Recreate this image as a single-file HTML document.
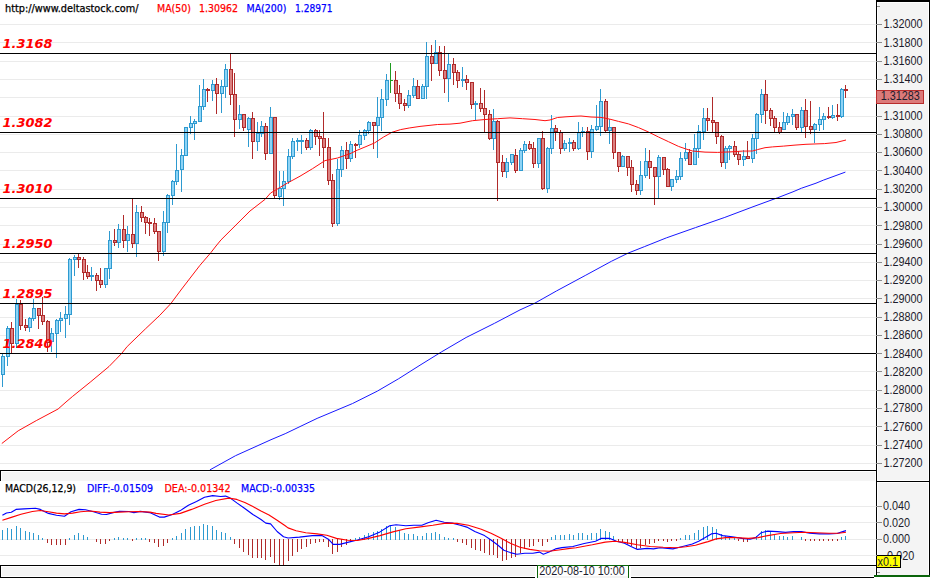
<!DOCTYPE html>
<html lang="en"><head><meta charset="utf-8"><title>Chart</title>
<style>html,body{margin:0;padding:0;background:#fff;overflow:hidden}svg{display:block}.t{font-family:"DejaVu Sans Condensed","DejaVu Sans","Liberation Sans",sans-serif;font-stretch:condensed;font-size:11px}.a{font-family:"Liberation Sans",Arial,sans-serif;font-size:12px;fill:#1c1c2c}.l{font-family:"DejaVu Sans","Liberation Sans",sans-serif;font-weight:bold;font-style:italic;font-size:12.7px;fill:#ff0000}</style></head><body>
<svg width="930" height="578" viewBox="0 0 930 578">
<rect width="930" height="578" fill="#fff"/>
<g shape-rendering="crispEdges">
<rect x="0" y="24" width="876" height="1" fill="#ebebeb"/>
<rect x="0" y="42" width="876" height="1" fill="#ebebeb"/>
<rect x="0" y="61" width="876" height="1" fill="#ebebeb"/>
<rect x="0" y="79" width="876" height="1" fill="#ebebeb"/>
<rect x="0" y="97" width="876" height="1" fill="#ebebeb"/>
<rect x="0" y="116" width="876" height="1" fill="#ebebeb"/>
<rect x="0" y="134" width="876" height="1" fill="#ebebeb"/>
<rect x="0" y="152" width="876" height="1" fill="#ebebeb"/>
<rect x="0" y="170" width="876" height="1" fill="#ebebeb"/>
<rect x="0" y="189" width="876" height="1" fill="#ebebeb"/>
<rect x="0" y="207" width="876" height="1" fill="#ebebeb"/>
<rect x="0" y="225" width="876" height="1" fill="#ebebeb"/>
<rect x="0" y="244" width="876" height="1" fill="#ebebeb"/>
<rect x="0" y="262" width="876" height="1" fill="#ebebeb"/>
<rect x="0" y="280" width="876" height="1" fill="#ebebeb"/>
<rect x="0" y="298" width="876" height="1" fill="#ebebeb"/>
<rect x="0" y="317" width="876" height="1" fill="#ebebeb"/>
<rect x="0" y="335" width="876" height="1" fill="#ebebeb"/>
<rect x="0" y="353" width="876" height="1" fill="#ebebeb"/>
<rect x="0" y="371" width="876" height="1" fill="#ebebeb"/>
<rect x="0" y="390" width="876" height="1" fill="#ebebeb"/>
<rect x="0" y="408" width="876" height="1" fill="#ebebeb"/>
<rect x="0" y="426" width="876" height="1" fill="#ebebeb"/>
<rect x="0" y="445" width="876" height="1" fill="#ebebeb"/>
<rect x="0" y="463" width="876" height="1" fill="#ebebeb"/>
<rect x="0" y="506" width="876" height="1" fill="#ebebeb"/>
<rect x="0" y="522" width="876" height="1" fill="#ebebeb"/>
<rect x="0" y="539" width="876" height="1" fill="#ebebeb"/>
<rect x="0" y="555" width="876" height="1" fill="#ebebeb"/>
</g>
<g shape-rendering="crispEdges">
<rect x="2" y="354" width="1" height="33" fill="#2e9ad0"/>
<rect x="1" y="356" width="4" height="19" fill="#2e9ad0"/>
<rect x="2" y="357" width="2" height="17" fill="#8dd3f5"/>
<rect x="7" y="326" width="1" height="40" fill="#2e9ad0"/>
<rect x="6" y="328" width="4" height="29" fill="#2e9ad0"/>
<rect x="7" y="329" width="2" height="27" fill="#8dd3f5"/>
<rect x="11" y="322" width="1" height="32" fill="#b02a2a"/>
<rect x="10" y="328" width="4" height="16" fill="#b02a2a"/>
<rect x="11" y="329" width="2" height="14" fill="#dc8080"/>
<rect x="16" y="299" width="1" height="49" fill="#2e9ad0"/>
<rect x="15" y="304" width="4" height="40" fill="#2e9ad0"/>
<rect x="16" y="305" width="2" height="38" fill="#8dd3f5"/>
<rect x="20" y="300" width="1" height="30" fill="#b02a2a"/>
<rect x="19" y="304" width="4" height="22" fill="#b02a2a"/>
<rect x="20" y="305" width="2" height="20" fill="#dc8080"/>
<rect x="25" y="319" width="1" height="12" fill="#b02a2a"/>
<rect x="24" y="325" width="4" height="3" fill="#b02a2a"/>
<rect x="25" y="326" width="2" height="1" fill="#dc8080"/>
<rect x="29" y="317" width="1" height="15" fill="#2e9ad0"/>
<rect x="28" y="318" width="4" height="10" fill="#2e9ad0"/>
<rect x="29" y="319" width="2" height="8" fill="#8dd3f5"/>
<rect x="33" y="299" width="1" height="22" fill="#2e9ad0"/>
<rect x="32" y="308" width="4" height="11" fill="#2e9ad0"/>
<rect x="33" y="309" width="2" height="9" fill="#8dd3f5"/>
<rect x="38" y="308" width="1" height="21" fill="#b02a2a"/>
<rect x="37" y="308" width="4" height="8" fill="#b02a2a"/>
<rect x="38" y="309" width="2" height="6" fill="#dc8080"/>
<rect x="42" y="297" width="1" height="28" fill="#b02a2a"/>
<rect x="41" y="315" width="4" height="7" fill="#b02a2a"/>
<rect x="42" y="316" width="2" height="5" fill="#dc8080"/>
<rect x="47" y="320" width="1" height="32" fill="#b02a2a"/>
<rect x="46" y="321" width="4" height="22" fill="#b02a2a"/>
<rect x="47" y="322" width="2" height="20" fill="#dc8080"/>
<rect x="51" y="328" width="1" height="24" fill="#2e9ad0"/>
<rect x="50" y="333" width="4" height="9" fill="#2e9ad0"/>
<rect x="51" y="334" width="2" height="7" fill="#8dd3f5"/>
<rect x="56" y="319" width="1" height="39" fill="#2e9ad0"/>
<rect x="55" y="320" width="4" height="14" fill="#2e9ad0"/>
<rect x="56" y="321" width="2" height="12" fill="#8dd3f5"/>
<rect x="60" y="312" width="1" height="20" fill="#2e9ad0"/>
<rect x="59" y="318" width="4" height="3" fill="#2e9ad0"/>
<rect x="60" y="319" width="2" height="1" fill="#8dd3f5"/>
<rect x="65" y="306" width="1" height="32" fill="#2e9ad0"/>
<rect x="64" y="314" width="4" height="5" fill="#2e9ad0"/>
<rect x="65" y="315" width="2" height="3" fill="#8dd3f5"/>
<rect x="69" y="258" width="1" height="67" fill="#2e9ad0"/>
<rect x="68" y="259" width="4" height="56" fill="#2e9ad0"/>
<rect x="69" y="260" width="2" height="54" fill="#8dd3f5"/>
<rect x="74" y="255" width="1" height="21" fill="#2e9ad0"/>
<rect x="73" y="257" width="4" height="3" fill="#2e9ad0"/>
<rect x="74" y="258" width="2" height="1" fill="#8dd3f5"/>
<rect x="78" y="254" width="1" height="14" fill="#b02a2a"/>
<rect x="77" y="257" width="4" height="3" fill="#b02a2a"/>
<rect x="78" y="258" width="2" height="1" fill="#dc8080"/>
<rect x="83" y="257" width="1" height="23" fill="#b02a2a"/>
<rect x="82" y="259" width="4" height="14" fill="#b02a2a"/>
<rect x="83" y="260" width="2" height="12" fill="#dc8080"/>
<rect x="87" y="265" width="1" height="14" fill="#b02a2a"/>
<rect x="86" y="272" width="4" height="5" fill="#b02a2a"/>
<rect x="87" y="273" width="2" height="3" fill="#dc8080"/>
<rect x="91" y="267" width="1" height="14" fill="#2e9ad0"/>
<rect x="90" y="275" width="4" height="2" fill="#2e9ad0"/>
<rect x="96" y="273" width="1" height="18" fill="#b02a2a"/>
<rect x="95" y="275" width="4" height="6" fill="#b02a2a"/>
<rect x="96" y="276" width="2" height="4" fill="#dc8080"/>
<rect x="100" y="268" width="1" height="20" fill="#b02a2a"/>
<rect x="99" y="280" width="4" height="5" fill="#b02a2a"/>
<rect x="100" y="281" width="2" height="3" fill="#dc8080"/>
<rect x="105" y="268" width="1" height="20" fill="#2e9ad0"/>
<rect x="104" y="268" width="4" height="17" fill="#2e9ad0"/>
<rect x="105" y="269" width="2" height="15" fill="#8dd3f5"/>
<rect x="109" y="231" width="1" height="48" fill="#2e9ad0"/>
<rect x="108" y="240" width="4" height="29" fill="#2e9ad0"/>
<rect x="109" y="241" width="2" height="27" fill="#8dd3f5"/>
<rect x="114" y="229" width="1" height="17" fill="#b02a2a"/>
<rect x="113" y="240" width="4" height="3" fill="#b02a2a"/>
<rect x="114" y="241" width="2" height="1" fill="#dc8080"/>
<rect x="118" y="224" width="1" height="24" fill="#2e9ad0"/>
<rect x="117" y="229" width="4" height="14" fill="#2e9ad0"/>
<rect x="118" y="230" width="2" height="12" fill="#8dd3f5"/>
<rect x="123" y="215" width="1" height="33" fill="#b02a2a"/>
<rect x="122" y="229" width="4" height="12" fill="#b02a2a"/>
<rect x="123" y="230" width="2" height="10" fill="#dc8080"/>
<rect x="127" y="226" width="1" height="26" fill="#2e9ad0"/>
<rect x="126" y="234" width="4" height="7" fill="#2e9ad0"/>
<rect x="127" y="235" width="2" height="5" fill="#8dd3f5"/>
<rect x="132" y="199" width="1" height="49" fill="#b02a2a"/>
<rect x="131" y="234" width="4" height="10" fill="#b02a2a"/>
<rect x="132" y="235" width="2" height="8" fill="#dc8080"/>
<rect x="136" y="205" width="1" height="52" fill="#2e9ad0"/>
<rect x="135" y="212" width="4" height="32" fill="#2e9ad0"/>
<rect x="136" y="213" width="2" height="30" fill="#8dd3f5"/>
<rect x="141" y="206" width="1" height="16" fill="#b02a2a"/>
<rect x="140" y="212" width="4" height="6" fill="#b02a2a"/>
<rect x="141" y="213" width="2" height="4" fill="#dc8080"/>
<rect x="145" y="216" width="1" height="18" fill="#b02a2a"/>
<rect x="144" y="217" width="4" height="6" fill="#b02a2a"/>
<rect x="145" y="218" width="2" height="4" fill="#dc8080"/>
<rect x="149" y="218" width="1" height="18" fill="#b02a2a"/>
<rect x="148" y="222" width="4" height="2" fill="#b02a2a"/>
<rect x="154" y="218" width="1" height="16" fill="#b02a2a"/>
<rect x="153" y="223" width="4" height="9" fill="#b02a2a"/>
<rect x="154" y="224" width="2" height="7" fill="#dc8080"/>
<rect x="158" y="231" width="1" height="30" fill="#b02a2a"/>
<rect x="157" y="231" width="4" height="21" fill="#b02a2a"/>
<rect x="158" y="232" width="2" height="19" fill="#dc8080"/>
<rect x="163" y="211" width="1" height="45" fill="#2e9ad0"/>
<rect x="162" y="222" width="4" height="30" fill="#2e9ad0"/>
<rect x="163" y="223" width="2" height="28" fill="#8dd3f5"/>
<rect x="167" y="194" width="1" height="39" fill="#2e9ad0"/>
<rect x="166" y="195" width="4" height="28" fill="#2e9ad0"/>
<rect x="167" y="196" width="2" height="26" fill="#8dd3f5"/>
<rect x="172" y="180" width="1" height="25" fill="#2e9ad0"/>
<rect x="171" y="181" width="4" height="15" fill="#2e9ad0"/>
<rect x="172" y="182" width="2" height="13" fill="#8dd3f5"/>
<rect x="176" y="144" width="1" height="41" fill="#2e9ad0"/>
<rect x="175" y="170" width="4" height="12" fill="#2e9ad0"/>
<rect x="176" y="171" width="2" height="10" fill="#8dd3f5"/>
<rect x="181" y="149" width="1" height="43" fill="#2e9ad0"/>
<rect x="180" y="155" width="4" height="15" fill="#2e9ad0"/>
<rect x="181" y="156" width="2" height="13" fill="#8dd3f5"/>
<rect x="185" y="127" width="1" height="29" fill="#2e9ad0"/>
<rect x="184" y="127" width="4" height="29" fill="#2e9ad0"/>
<rect x="185" y="128" width="2" height="27" fill="#8dd3f5"/>
<rect x="190" y="116" width="1" height="18" fill="#2e9ad0"/>
<rect x="189" y="123" width="4" height="5" fill="#2e9ad0"/>
<rect x="190" y="124" width="2" height="3" fill="#8dd3f5"/>
<rect x="194" y="119" width="1" height="21" fill="#2e9ad0"/>
<rect x="193" y="121" width="4" height="3" fill="#2e9ad0"/>
<rect x="194" y="122" width="2" height="1" fill="#8dd3f5"/>
<rect x="199" y="85" width="1" height="37" fill="#2e9ad0"/>
<rect x="198" y="106" width="4" height="16" fill="#2e9ad0"/>
<rect x="199" y="107" width="2" height="14" fill="#8dd3f5"/>
<rect x="203" y="79" width="1" height="31" fill="#2e9ad0"/>
<rect x="202" y="89" width="4" height="18" fill="#2e9ad0"/>
<rect x="203" y="90" width="2" height="16" fill="#8dd3f5"/>
<rect x="207" y="88" width="1" height="14" fill="#b02a2a"/>
<rect x="206" y="89" width="4" height="2" fill="#b02a2a"/>
<rect x="212" y="80" width="1" height="21" fill="#2e9ad0"/>
<rect x="211" y="84" width="4" height="7" fill="#2e9ad0"/>
<rect x="212" y="85" width="2" height="5" fill="#8dd3f5"/>
<rect x="216" y="78" width="1" height="36" fill="#b02a2a"/>
<rect x="215" y="84" width="4" height="10" fill="#b02a2a"/>
<rect x="216" y="85" width="2" height="8" fill="#dc8080"/>
<rect x="221" y="80" width="1" height="33" fill="#2e9ad0"/>
<rect x="220" y="86" width="4" height="8" fill="#2e9ad0"/>
<rect x="221" y="87" width="2" height="6" fill="#8dd3f5"/>
<rect x="225" y="64" width="1" height="34" fill="#2e9ad0"/>
<rect x="224" y="69" width="4" height="18" fill="#2e9ad0"/>
<rect x="225" y="70" width="2" height="16" fill="#8dd3f5"/>
<rect x="230" y="54" width="1" height="51" fill="#b02a2a"/>
<rect x="229" y="69" width="4" height="26" fill="#b02a2a"/>
<rect x="230" y="70" width="2" height="24" fill="#dc8080"/>
<rect x="234" y="73" width="1" height="64" fill="#b02a2a"/>
<rect x="233" y="94" width="4" height="26" fill="#b02a2a"/>
<rect x="234" y="95" width="2" height="24" fill="#dc8080"/>
<rect x="239" y="105" width="1" height="24" fill="#2e9ad0"/>
<rect x="238" y="114" width="4" height="6" fill="#2e9ad0"/>
<rect x="239" y="115" width="2" height="4" fill="#8dd3f5"/>
<rect x="243" y="114" width="1" height="17" fill="#b02a2a"/>
<rect x="242" y="114" width="4" height="14" fill="#b02a2a"/>
<rect x="243" y="115" width="2" height="12" fill="#dc8080"/>
<rect x="248" y="117" width="1" height="30" fill="#2e9ad0"/>
<rect x="247" y="118" width="4" height="12" fill="#2e9ad0"/>
<rect x="248" y="119" width="2" height="10" fill="#8dd3f5"/>
<rect x="252" y="112" width="1" height="47" fill="#b02a2a"/>
<rect x="251" y="118" width="4" height="24" fill="#b02a2a"/>
<rect x="252" y="119" width="2" height="22" fill="#dc8080"/>
<rect x="257" y="122" width="1" height="29" fill="#2e9ad0"/>
<rect x="256" y="133" width="4" height="9" fill="#2e9ad0"/>
<rect x="257" y="134" width="2" height="7" fill="#8dd3f5"/>
<rect x="261" y="121" width="1" height="16" fill="#2e9ad0"/>
<rect x="260" y="126" width="4" height="8" fill="#2e9ad0"/>
<rect x="261" y="127" width="2" height="6" fill="#8dd3f5"/>
<rect x="265" y="123" width="1" height="37" fill="#b02a2a"/>
<rect x="264" y="126" width="4" height="28" fill="#b02a2a"/>
<rect x="265" y="127" width="2" height="26" fill="#dc8080"/>
<rect x="270" y="107" width="1" height="47" fill="#2e9ad0"/>
<rect x="269" y="117" width="4" height="37" fill="#2e9ad0"/>
<rect x="270" y="118" width="2" height="35" fill="#8dd3f5"/>
<rect x="274" y="117" width="1" height="81" fill="#b02a2a"/>
<rect x="273" y="117" width="4" height="79" fill="#b02a2a"/>
<rect x="274" y="118" width="2" height="77" fill="#dc8080"/>
<rect x="279" y="171" width="1" height="29" fill="#2e9ad0"/>
<rect x="278" y="188" width="4" height="9" fill="#2e9ad0"/>
<rect x="279" y="189" width="2" height="7" fill="#8dd3f5"/>
<rect x="283" y="171" width="1" height="35" fill="#2e9ad0"/>
<rect x="282" y="181" width="4" height="8" fill="#2e9ad0"/>
<rect x="283" y="182" width="2" height="6" fill="#8dd3f5"/>
<rect x="288" y="149" width="1" height="35" fill="#2e9ad0"/>
<rect x="287" y="156" width="4" height="26" fill="#2e9ad0"/>
<rect x="288" y="157" width="2" height="24" fill="#8dd3f5"/>
<rect x="292" y="138" width="1" height="21" fill="#2e9ad0"/>
<rect x="291" y="141" width="4" height="16" fill="#2e9ad0"/>
<rect x="292" y="142" width="2" height="14" fill="#8dd3f5"/>
<rect x="297" y="138" width="1" height="13" fill="#2e9ad0"/>
<rect x="296" y="140" width="4" height="2" fill="#2e9ad0"/>
<rect x="301" y="135" width="1" height="19" fill="#2e9ad0"/>
<rect x="300" y="140" width="4" height="2" fill="#2e9ad0"/>
<rect x="306" y="138" width="1" height="12" fill="#b02a2a"/>
<rect x="305" y="140" width="4" height="8" fill="#b02a2a"/>
<rect x="306" y="141" width="2" height="6" fill="#dc8080"/>
<rect x="310" y="129" width="1" height="21" fill="#2e9ad0"/>
<rect x="309" y="130" width="4" height="18" fill="#2e9ad0"/>
<rect x="310" y="131" width="2" height="16" fill="#8dd3f5"/>
<rect x="315" y="129" width="1" height="16" fill="#b02a2a"/>
<rect x="314" y="130" width="4" height="7" fill="#b02a2a"/>
<rect x="315" y="131" width="2" height="5" fill="#dc8080"/>
<rect x="319" y="130" width="1" height="26" fill="#b02a2a"/>
<rect x="318" y="136" width="4" height="3" fill="#b02a2a"/>
<rect x="319" y="137" width="2" height="1" fill="#dc8080"/>
<rect x="323" y="112" width="1" height="56" fill="#b02a2a"/>
<rect x="322" y="138" width="4" height="10" fill="#b02a2a"/>
<rect x="323" y="139" width="2" height="8" fill="#dc8080"/>
<rect x="328" y="138" width="1" height="47" fill="#b02a2a"/>
<rect x="327" y="147" width="4" height="34" fill="#b02a2a"/>
<rect x="328" y="148" width="2" height="32" fill="#dc8080"/>
<rect x="332" y="174" width="1" height="53" fill="#b02a2a"/>
<rect x="331" y="180" width="4" height="44" fill="#b02a2a"/>
<rect x="332" y="181" width="2" height="42" fill="#dc8080"/>
<rect x="337" y="159" width="1" height="67" fill="#2e9ad0"/>
<rect x="336" y="169" width="4" height="55" fill="#2e9ad0"/>
<rect x="337" y="170" width="2" height="53" fill="#8dd3f5"/>
<rect x="341" y="146" width="1" height="31" fill="#2e9ad0"/>
<rect x="340" y="150" width="4" height="20" fill="#2e9ad0"/>
<rect x="341" y="151" width="2" height="18" fill="#8dd3f5"/>
<rect x="346" y="142" width="1" height="27" fill="#b02a2a"/>
<rect x="345" y="150" width="4" height="9" fill="#b02a2a"/>
<rect x="346" y="151" width="2" height="7" fill="#dc8080"/>
<rect x="350" y="141" width="1" height="21" fill="#2e9ad0"/>
<rect x="349" y="144" width="4" height="15" fill="#2e9ad0"/>
<rect x="350" y="145" width="2" height="13" fill="#8dd3f5"/>
<rect x="355" y="143" width="1" height="15" fill="#b02a2a"/>
<rect x="354" y="144" width="4" height="2" fill="#b02a2a"/>
<rect x="359" y="130" width="1" height="18" fill="#2e9ad0"/>
<rect x="358" y="135" width="4" height="10" fill="#2e9ad0"/>
<rect x="359" y="136" width="2" height="8" fill="#8dd3f5"/>
<rect x="364" y="129" width="1" height="11" fill="#2e9ad0"/>
<rect x="363" y="130" width="4" height="6" fill="#2e9ad0"/>
<rect x="364" y="131" width="2" height="4" fill="#8dd3f5"/>
<rect x="368" y="121" width="1" height="13" fill="#2e9ad0"/>
<rect x="367" y="122" width="4" height="9" fill="#2e9ad0"/>
<rect x="368" y="123" width="2" height="7" fill="#8dd3f5"/>
<rect x="373" y="122" width="1" height="27" fill="#b02a2a"/>
<rect x="372" y="122" width="4" height="4" fill="#b02a2a"/>
<rect x="373" y="123" width="2" height="2" fill="#dc8080"/>
<rect x="377" y="97" width="1" height="61" fill="#2e9ad0"/>
<rect x="376" y="117" width="4" height="9" fill="#2e9ad0"/>
<rect x="377" y="118" width="2" height="7" fill="#8dd3f5"/>
<rect x="381" y="89" width="1" height="42" fill="#2e9ad0"/>
<rect x="380" y="99" width="4" height="19" fill="#2e9ad0"/>
<rect x="381" y="100" width="2" height="17" fill="#8dd3f5"/>
<rect x="386" y="74" width="1" height="32" fill="#2e9ad0"/>
<rect x="385" y="80" width="4" height="20" fill="#2e9ad0"/>
<rect x="386" y="81" width="2" height="18" fill="#8dd3f5"/>
<rect x="390" y="63" width="1" height="30" fill="#1f9a1f"/>
<rect x="390" y="80" width="3" height="1" fill="#1f9a1f"/>
<rect x="395" y="71" width="1" height="31" fill="#b02a2a"/>
<rect x="394" y="80" width="4" height="14" fill="#b02a2a"/>
<rect x="395" y="81" width="2" height="12" fill="#dc8080"/>
<rect x="399" y="85" width="1" height="24" fill="#b02a2a"/>
<rect x="398" y="93" width="4" height="11" fill="#b02a2a"/>
<rect x="399" y="94" width="2" height="9" fill="#dc8080"/>
<rect x="404" y="99" width="1" height="12" fill="#b02a2a"/>
<rect x="403" y="103" width="4" height="3" fill="#b02a2a"/>
<rect x="404" y="104" width="2" height="1" fill="#dc8080"/>
<rect x="408" y="90" width="1" height="18" fill="#2e9ad0"/>
<rect x="407" y="95" width="4" height="11" fill="#2e9ad0"/>
<rect x="408" y="96" width="2" height="9" fill="#8dd3f5"/>
<rect x="413" y="78" width="1" height="20" fill="#2e9ad0"/>
<rect x="412" y="86" width="4" height="10" fill="#2e9ad0"/>
<rect x="413" y="87" width="2" height="8" fill="#8dd3f5"/>
<rect x="417" y="80" width="1" height="19" fill="#b02a2a"/>
<rect x="416" y="86" width="4" height="13" fill="#b02a2a"/>
<rect x="417" y="87" width="2" height="11" fill="#dc8080"/>
<rect x="422" y="84" width="1" height="15" fill="#2e9ad0"/>
<rect x="421" y="86" width="4" height="13" fill="#2e9ad0"/>
<rect x="422" y="87" width="2" height="11" fill="#8dd3f5"/>
<rect x="426" y="42" width="1" height="57" fill="#2e9ad0"/>
<rect x="425" y="56" width="4" height="31" fill="#2e9ad0"/>
<rect x="426" y="57" width="2" height="29" fill="#8dd3f5"/>
<rect x="431" y="45" width="1" height="36" fill="#b02a2a"/>
<rect x="430" y="56" width="4" height="8" fill="#b02a2a"/>
<rect x="431" y="57" width="2" height="6" fill="#dc8080"/>
<rect x="435" y="40" width="1" height="24" fill="#2e9ad0"/>
<rect x="434" y="52" width="4" height="12" fill="#2e9ad0"/>
<rect x="435" y="53" width="2" height="10" fill="#8dd3f5"/>
<rect x="439" y="46" width="1" height="30" fill="#b02a2a"/>
<rect x="438" y="52" width="4" height="19" fill="#b02a2a"/>
<rect x="439" y="53" width="2" height="17" fill="#dc8080"/>
<rect x="444" y="46" width="1" height="47" fill="#b02a2a"/>
<rect x="443" y="70" width="4" height="9" fill="#b02a2a"/>
<rect x="444" y="71" width="2" height="7" fill="#dc8080"/>
<rect x="448" y="54" width="1" height="48" fill="#2e9ad0"/>
<rect x="447" y="64" width="4" height="15" fill="#2e9ad0"/>
<rect x="448" y="65" width="2" height="13" fill="#8dd3f5"/>
<rect x="453" y="58" width="1" height="27" fill="#b02a2a"/>
<rect x="452" y="64" width="4" height="9" fill="#b02a2a"/>
<rect x="453" y="65" width="2" height="7" fill="#dc8080"/>
<rect x="457" y="70" width="1" height="18" fill="#b02a2a"/>
<rect x="456" y="72" width="4" height="9" fill="#b02a2a"/>
<rect x="457" y="73" width="2" height="7" fill="#dc8080"/>
<rect x="462" y="67" width="1" height="20" fill="#2e9ad0"/>
<rect x="461" y="79" width="4" height="2" fill="#2e9ad0"/>
<rect x="466" y="75" width="1" height="15" fill="#b02a2a"/>
<rect x="465" y="79" width="4" height="4" fill="#b02a2a"/>
<rect x="466" y="80" width="2" height="2" fill="#dc8080"/>
<rect x="471" y="82" width="1" height="27" fill="#b02a2a"/>
<rect x="470" y="82" width="4" height="23" fill="#b02a2a"/>
<rect x="471" y="83" width="2" height="21" fill="#dc8080"/>
<rect x="475" y="101" width="1" height="19" fill="#2e9ad0"/>
<rect x="474" y="103" width="4" height="2" fill="#2e9ad0"/>
<rect x="480" y="88" width="1" height="24" fill="#b02a2a"/>
<rect x="479" y="103" width="4" height="6" fill="#b02a2a"/>
<rect x="480" y="104" width="2" height="4" fill="#dc8080"/>
<rect x="484" y="90" width="1" height="42" fill="#b02a2a"/>
<rect x="483" y="108" width="4" height="7" fill="#b02a2a"/>
<rect x="484" y="109" width="2" height="5" fill="#dc8080"/>
<rect x="489" y="110" width="1" height="30" fill="#b02a2a"/>
<rect x="488" y="114" width="4" height="25" fill="#b02a2a"/>
<rect x="489" y="115" width="2" height="23" fill="#dc8080"/>
<rect x="493" y="109" width="1" height="41" fill="#2e9ad0"/>
<rect x="492" y="121" width="4" height="18" fill="#2e9ad0"/>
<rect x="493" y="122" width="2" height="16" fill="#8dd3f5"/>
<rect x="497" y="120" width="1" height="81" fill="#b02a2a"/>
<rect x="496" y="121" width="4" height="42" fill="#b02a2a"/>
<rect x="497" y="122" width="2" height="40" fill="#dc8080"/>
<rect x="502" y="155" width="1" height="22" fill="#b02a2a"/>
<rect x="501" y="162" width="4" height="10" fill="#b02a2a"/>
<rect x="502" y="163" width="2" height="8" fill="#dc8080"/>
<rect x="506" y="158" width="1" height="20" fill="#2e9ad0"/>
<rect x="505" y="162" width="4" height="10" fill="#2e9ad0"/>
<rect x="506" y="163" width="2" height="8" fill="#8dd3f5"/>
<rect x="511" y="154" width="1" height="11" fill="#2e9ad0"/>
<rect x="510" y="154" width="4" height="9" fill="#2e9ad0"/>
<rect x="511" y="155" width="2" height="7" fill="#8dd3f5"/>
<rect x="515" y="149" width="1" height="24" fill="#b02a2a"/>
<rect x="514" y="155" width="4" height="16" fill="#b02a2a"/>
<rect x="515" y="156" width="2" height="14" fill="#dc8080"/>
<rect x="520" y="148" width="1" height="23" fill="#2e9ad0"/>
<rect x="519" y="150" width="4" height="21" fill="#2e9ad0"/>
<rect x="520" y="151" width="2" height="19" fill="#8dd3f5"/>
<rect x="524" y="141" width="1" height="12" fill="#2e9ad0"/>
<rect x="523" y="144" width="4" height="7" fill="#2e9ad0"/>
<rect x="524" y="145" width="2" height="5" fill="#8dd3f5"/>
<rect x="529" y="141" width="1" height="9" fill="#b02a2a"/>
<rect x="528" y="144" width="4" height="5" fill="#b02a2a"/>
<rect x="529" y="145" width="2" height="3" fill="#dc8080"/>
<rect x="533" y="142" width="1" height="26" fill="#b02a2a"/>
<rect x="532" y="148" width="4" height="16" fill="#b02a2a"/>
<rect x="533" y="149" width="2" height="14" fill="#dc8080"/>
<rect x="538" y="138" width="1" height="30" fill="#2e9ad0"/>
<rect x="537" y="138" width="4" height="26" fill="#2e9ad0"/>
<rect x="538" y="139" width="2" height="24" fill="#8dd3f5"/>
<rect x="542" y="131" width="1" height="59" fill="#b02a2a"/>
<rect x="541" y="138" width="4" height="51" fill="#b02a2a"/>
<rect x="542" y="139" width="2" height="49" fill="#dc8080"/>
<rect x="547" y="147" width="1" height="46" fill="#2e9ad0"/>
<rect x="546" y="148" width="4" height="41" fill="#2e9ad0"/>
<rect x="547" y="149" width="2" height="39" fill="#8dd3f5"/>
<rect x="551" y="115" width="1" height="39" fill="#2e9ad0"/>
<rect x="550" y="128" width="4" height="21" fill="#2e9ad0"/>
<rect x="551" y="129" width="2" height="19" fill="#8dd3f5"/>
<rect x="555" y="125" width="1" height="16" fill="#b02a2a"/>
<rect x="554" y="128" width="4" height="4" fill="#b02a2a"/>
<rect x="555" y="129" width="2" height="2" fill="#dc8080"/>
<rect x="560" y="130" width="1" height="24" fill="#b02a2a"/>
<rect x="559" y="132" width="4" height="17" fill="#b02a2a"/>
<rect x="560" y="133" width="2" height="15" fill="#dc8080"/>
<rect x="564" y="140" width="1" height="11" fill="#2e9ad0"/>
<rect x="563" y="143" width="4" height="6" fill="#2e9ad0"/>
<rect x="564" y="144" width="2" height="4" fill="#8dd3f5"/>
<rect x="569" y="138" width="1" height="14" fill="#2e9ad0"/>
<rect x="568" y="142" width="4" height="2" fill="#2e9ad0"/>
<rect x="573" y="140" width="1" height="11" fill="#b02a2a"/>
<rect x="572" y="142" width="4" height="7" fill="#b02a2a"/>
<rect x="573" y="143" width="2" height="5" fill="#dc8080"/>
<rect x="578" y="122" width="1" height="28" fill="#2e9ad0"/>
<rect x="577" y="132" width="4" height="17" fill="#2e9ad0"/>
<rect x="578" y="133" width="2" height="15" fill="#8dd3f5"/>
<rect x="582" y="127" width="1" height="10" fill="#2e9ad0"/>
<rect x="581" y="131" width="4" height="2" fill="#2e9ad0"/>
<rect x="587" y="127" width="1" height="33" fill="#b02a2a"/>
<rect x="586" y="131" width="4" height="21" fill="#b02a2a"/>
<rect x="587" y="132" width="2" height="19" fill="#dc8080"/>
<rect x="591" y="125" width="1" height="33" fill="#2e9ad0"/>
<rect x="590" y="129" width="4" height="23" fill="#2e9ad0"/>
<rect x="591" y="130" width="2" height="21" fill="#8dd3f5"/>
<rect x="596" y="105" width="1" height="26" fill="#2e9ad0"/>
<rect x="595" y="126" width="4" height="4" fill="#2e9ad0"/>
<rect x="596" y="127" width="2" height="2" fill="#8dd3f5"/>
<rect x="600" y="89" width="1" height="47" fill="#2e9ad0"/>
<rect x="599" y="101" width="4" height="26" fill="#2e9ad0"/>
<rect x="600" y="102" width="2" height="24" fill="#8dd3f5"/>
<rect x="605" y="99" width="1" height="33" fill="#b02a2a"/>
<rect x="604" y="101" width="4" height="30" fill="#b02a2a"/>
<rect x="605" y="102" width="2" height="28" fill="#dc8080"/>
<rect x="609" y="119" width="1" height="25" fill="#2e9ad0"/>
<rect x="608" y="127" width="4" height="4" fill="#2e9ad0"/>
<rect x="609" y="128" width="2" height="2" fill="#8dd3f5"/>
<rect x="613" y="127" width="1" height="32" fill="#b02a2a"/>
<rect x="612" y="127" width="4" height="26" fill="#b02a2a"/>
<rect x="613" y="128" width="2" height="24" fill="#dc8080"/>
<rect x="618" y="152" width="1" height="20" fill="#b02a2a"/>
<rect x="617" y="152" width="4" height="15" fill="#b02a2a"/>
<rect x="618" y="153" width="2" height="13" fill="#dc8080"/>
<rect x="622" y="155" width="1" height="12" fill="#2e9ad0"/>
<rect x="621" y="156" width="4" height="11" fill="#2e9ad0"/>
<rect x="622" y="157" width="2" height="9" fill="#8dd3f5"/>
<rect x="627" y="156" width="1" height="20" fill="#b02a2a"/>
<rect x="626" y="156" width="4" height="12" fill="#b02a2a"/>
<rect x="627" y="157" width="2" height="10" fill="#dc8080"/>
<rect x="631" y="160" width="1" height="32" fill="#b02a2a"/>
<rect x="630" y="167" width="4" height="18" fill="#b02a2a"/>
<rect x="631" y="168" width="2" height="16" fill="#dc8080"/>
<rect x="636" y="180" width="1" height="15" fill="#b02a2a"/>
<rect x="635" y="184" width="4" height="7" fill="#b02a2a"/>
<rect x="636" y="185" width="2" height="5" fill="#dc8080"/>
<rect x="640" y="161" width="1" height="34" fill="#2e9ad0"/>
<rect x="639" y="175" width="4" height="16" fill="#2e9ad0"/>
<rect x="640" y="176" width="2" height="14" fill="#8dd3f5"/>
<rect x="645" y="148" width="1" height="30" fill="#2e9ad0"/>
<rect x="644" y="161" width="4" height="15" fill="#2e9ad0"/>
<rect x="645" y="162" width="2" height="13" fill="#8dd3f5"/>
<rect x="649" y="150" width="1" height="29" fill="#b02a2a"/>
<rect x="648" y="161" width="4" height="7" fill="#b02a2a"/>
<rect x="649" y="162" width="2" height="5" fill="#dc8080"/>
<rect x="654" y="167" width="1" height="38" fill="#b02a2a"/>
<rect x="653" y="167" width="4" height="10" fill="#b02a2a"/>
<rect x="654" y="168" width="2" height="8" fill="#dc8080"/>
<rect x="658" y="155" width="1" height="43" fill="#2e9ad0"/>
<rect x="657" y="157" width="4" height="20" fill="#2e9ad0"/>
<rect x="658" y="158" width="2" height="18" fill="#8dd3f5"/>
<rect x="663" y="157" width="1" height="18" fill="#b02a2a"/>
<rect x="662" y="157" width="4" height="13" fill="#b02a2a"/>
<rect x="663" y="158" width="2" height="11" fill="#dc8080"/>
<rect x="667" y="168" width="1" height="19" fill="#b02a2a"/>
<rect x="666" y="169" width="4" height="18" fill="#b02a2a"/>
<rect x="667" y="170" width="2" height="16" fill="#dc8080"/>
<rect x="671" y="179" width="1" height="12" fill="#2e9ad0"/>
<rect x="670" y="179" width="4" height="8" fill="#2e9ad0"/>
<rect x="671" y="180" width="2" height="6" fill="#8dd3f5"/>
<rect x="676" y="170" width="1" height="13" fill="#2e9ad0"/>
<rect x="675" y="176" width="4" height="4" fill="#2e9ad0"/>
<rect x="676" y="177" width="2" height="2" fill="#8dd3f5"/>
<rect x="680" y="152" width="1" height="28" fill="#2e9ad0"/>
<rect x="679" y="158" width="4" height="19" fill="#2e9ad0"/>
<rect x="680" y="159" width="2" height="17" fill="#8dd3f5"/>
<rect x="685" y="143" width="1" height="18" fill="#2e9ad0"/>
<rect x="684" y="152" width="4" height="7" fill="#2e9ad0"/>
<rect x="685" y="153" width="2" height="5" fill="#8dd3f5"/>
<rect x="689" y="149" width="1" height="16" fill="#b02a2a"/>
<rect x="688" y="152" width="4" height="13" fill="#b02a2a"/>
<rect x="689" y="153" width="2" height="11" fill="#dc8080"/>
<rect x="694" y="134" width="1" height="31" fill="#2e9ad0"/>
<rect x="693" y="148" width="4" height="17" fill="#2e9ad0"/>
<rect x="694" y="149" width="2" height="15" fill="#8dd3f5"/>
<rect x="698" y="125" width="1" height="33" fill="#2e9ad0"/>
<rect x="697" y="131" width="4" height="18" fill="#2e9ad0"/>
<rect x="698" y="132" width="2" height="16" fill="#8dd3f5"/>
<rect x="703" y="108" width="1" height="32" fill="#2e9ad0"/>
<rect x="702" y="118" width="4" height="14" fill="#2e9ad0"/>
<rect x="703" y="119" width="2" height="12" fill="#8dd3f5"/>
<rect x="707" y="108" width="1" height="23" fill="#b02a2a"/>
<rect x="706" y="118" width="4" height="3" fill="#b02a2a"/>
<rect x="707" y="119" width="2" height="1" fill="#dc8080"/>
<rect x="712" y="97" width="1" height="35" fill="#b02a2a"/>
<rect x="711" y="120" width="4" height="3" fill="#b02a2a"/>
<rect x="712" y="121" width="2" height="1" fill="#dc8080"/>
<rect x="716" y="122" width="1" height="22" fill="#b02a2a"/>
<rect x="715" y="122" width="4" height="15" fill="#b02a2a"/>
<rect x="716" y="123" width="2" height="13" fill="#dc8080"/>
<rect x="721" y="135" width="1" height="32" fill="#b02a2a"/>
<rect x="720" y="136" width="4" height="27" fill="#b02a2a"/>
<rect x="721" y="137" width="2" height="25" fill="#dc8080"/>
<rect x="725" y="146" width="1" height="23" fill="#2e9ad0"/>
<rect x="724" y="148" width="4" height="15" fill="#2e9ad0"/>
<rect x="725" y="149" width="2" height="13" fill="#8dd3f5"/>
<rect x="729" y="145" width="1" height="15" fill="#2e9ad0"/>
<rect x="728" y="146" width="4" height="3" fill="#2e9ad0"/>
<rect x="729" y="147" width="2" height="1" fill="#8dd3f5"/>
<rect x="734" y="141" width="1" height="16" fill="#b02a2a"/>
<rect x="733" y="146" width="4" height="9" fill="#b02a2a"/>
<rect x="734" y="147" width="2" height="7" fill="#dc8080"/>
<rect x="738" y="151" width="1" height="14" fill="#b02a2a"/>
<rect x="737" y="154" width="4" height="6" fill="#b02a2a"/>
<rect x="738" y="155" width="2" height="4" fill="#dc8080"/>
<rect x="743" y="150" width="1" height="16" fill="#2e9ad0"/>
<rect x="742" y="156" width="4" height="4" fill="#2e9ad0"/>
<rect x="743" y="157" width="2" height="2" fill="#8dd3f5"/>
<rect x="747" y="141" width="1" height="18" fill="#b02a2a"/>
<rect x="746" y="156" width="4" height="3" fill="#b02a2a"/>
<rect x="747" y="157" width="2" height="1" fill="#dc8080"/>
<rect x="752" y="134" width="1" height="29" fill="#2e9ad0"/>
<rect x="751" y="138" width="4" height="21" fill="#2e9ad0"/>
<rect x="752" y="139" width="2" height="19" fill="#8dd3f5"/>
<rect x="756" y="113" width="1" height="41" fill="#2e9ad0"/>
<rect x="755" y="114" width="4" height="25" fill="#2e9ad0"/>
<rect x="756" y="115" width="2" height="23" fill="#8dd3f5"/>
<rect x="761" y="89" width="1" height="34" fill="#2e9ad0"/>
<rect x="760" y="94" width="4" height="21" fill="#2e9ad0"/>
<rect x="761" y="95" width="2" height="19" fill="#8dd3f5"/>
<rect x="765" y="80" width="1" height="44" fill="#b02a2a"/>
<rect x="764" y="94" width="4" height="17" fill="#b02a2a"/>
<rect x="765" y="95" width="2" height="15" fill="#dc8080"/>
<rect x="770" y="108" width="1" height="18" fill="#b02a2a"/>
<rect x="769" y="110" width="4" height="9" fill="#b02a2a"/>
<rect x="770" y="111" width="2" height="7" fill="#dc8080"/>
<rect x="774" y="116" width="1" height="16" fill="#b02a2a"/>
<rect x="773" y="118" width="4" height="10" fill="#b02a2a"/>
<rect x="774" y="119" width="2" height="8" fill="#dc8080"/>
<rect x="779" y="122" width="1" height="12" fill="#b02a2a"/>
<rect x="778" y="127" width="4" height="6" fill="#b02a2a"/>
<rect x="779" y="128" width="2" height="4" fill="#dc8080"/>
<rect x="783" y="112" width="1" height="18" fill="#2e9ad0"/>
<rect x="782" y="122" width="4" height="8" fill="#2e9ad0"/>
<rect x="783" y="123" width="2" height="6" fill="#8dd3f5"/>
<rect x="787" y="113" width="1" height="12" fill="#2e9ad0"/>
<rect x="786" y="116" width="4" height="7" fill="#2e9ad0"/>
<rect x="787" y="117" width="2" height="5" fill="#8dd3f5"/>
<rect x="792" y="109" width="1" height="16" fill="#2e9ad0"/>
<rect x="791" y="114" width="4" height="3" fill="#2e9ad0"/>
<rect x="792" y="115" width="2" height="1" fill="#8dd3f5"/>
<rect x="796" y="114" width="1" height="16" fill="#b02a2a"/>
<rect x="795" y="114" width="4" height="14" fill="#b02a2a"/>
<rect x="796" y="115" width="2" height="12" fill="#dc8080"/>
<rect x="801" y="107" width="1" height="25" fill="#2e9ad0"/>
<rect x="800" y="110" width="4" height="18" fill="#2e9ad0"/>
<rect x="801" y="111" width="2" height="16" fill="#8dd3f5"/>
<rect x="805" y="99" width="1" height="39" fill="#b02a2a"/>
<rect x="804" y="110" width="4" height="17" fill="#b02a2a"/>
<rect x="805" y="111" width="2" height="15" fill="#dc8080"/>
<rect x="810" y="101" width="1" height="33" fill="#b02a2a"/>
<rect x="809" y="126" width="4" height="4" fill="#b02a2a"/>
<rect x="810" y="127" width="2" height="2" fill="#dc8080"/>
<rect x="814" y="123" width="1" height="20" fill="#2e9ad0"/>
<rect x="813" y="124" width="4" height="6" fill="#2e9ad0"/>
<rect x="814" y="125" width="2" height="4" fill="#8dd3f5"/>
<rect x="819" y="107" width="1" height="24" fill="#2e9ad0"/>
<rect x="818" y="119" width="4" height="6" fill="#2e9ad0"/>
<rect x="819" y="120" width="2" height="4" fill="#8dd3f5"/>
<rect x="823" y="113" width="1" height="17" fill="#2e9ad0"/>
<rect x="822" y="116" width="4" height="4" fill="#2e9ad0"/>
<rect x="823" y="117" width="2" height="2" fill="#8dd3f5"/>
<rect x="828" y="107" width="1" height="12" fill="#b02a2a"/>
<rect x="827" y="116" width="4" height="2" fill="#b02a2a"/>
<rect x="832" y="105" width="1" height="14" fill="#2e9ad0"/>
<rect x="831" y="115" width="4" height="3" fill="#2e9ad0"/>
<rect x="832" y="116" width="2" height="1" fill="#8dd3f5"/>
<rect x="837" y="104" width="1" height="17" fill="#b02a2a"/>
<rect x="836" y="115" width="4" height="2" fill="#b02a2a"/>
<rect x="841" y="88" width="1" height="30" fill="#2e9ad0"/>
<rect x="840" y="89" width="4" height="28" fill="#2e9ad0"/>
<rect x="841" y="90" width="2" height="26" fill="#8dd3f5"/>
<rect x="845" y="85" width="1" height="13" fill="#b02a2a"/>
<rect x="844" y="89" width="4" height="2" fill="#b02a2a"/>
</g>
<g shape-rendering="crispEdges">
<rect x="2" y="530" width="1" height="10" fill="#2e9ad0"/>
<rect x="7" y="528" width="1" height="12" fill="#2e9ad0"/>
<rect x="11" y="529" width="1" height="11" fill="#2e9ad0"/>
<rect x="16" y="526" width="1" height="14" fill="#2e9ad0"/>
<rect x="20" y="528" width="1" height="12" fill="#2e9ad0"/>
<rect x="25" y="531" width="1" height="9" fill="#2e9ad0"/>
<rect x="29" y="532" width="1" height="8" fill="#2e9ad0"/>
<rect x="33" y="533" width="1" height="7" fill="#2e9ad0"/>
<rect x="38" y="535" width="1" height="5" fill="#2e9ad0"/>
<rect x="42" y="538" width="1" height="2" fill="#2e9ad0"/>
<rect x="47" y="539" width="1" height="4" fill="#b02a2a"/>
<rect x="51" y="539" width="1" height="6" fill="#b02a2a"/>
<rect x="56" y="539" width="1" height="6" fill="#b02a2a"/>
<rect x="60" y="539" width="1" height="6" fill="#b02a2a"/>
<rect x="65" y="539" width="1" height="6" fill="#b02a2a"/>
<rect x="69" y="538" width="1" height="2" fill="#2e9ad0"/>
<rect x="74" y="535" width="1" height="5" fill="#2e9ad0"/>
<rect x="78" y="533" width="1" height="7" fill="#2e9ad0"/>
<rect x="83" y="535" width="1" height="5" fill="#2e9ad0"/>
<rect x="87" y="537" width="1" height="3" fill="#2e9ad0"/>
<rect x="96" y="539" width="1" height="3" fill="#b02a2a"/>
<rect x="100" y="539" width="1" height="5" fill="#b02a2a"/>
<rect x="105" y="539" width="1" height="5" fill="#b02a2a"/>
<rect x="109" y="539" width="1" height="2" fill="#b02a2a"/>
<rect x="114" y="538" width="1" height="2" fill="#2e9ad0"/>
<rect x="118" y="537" width="1" height="3" fill="#2e9ad0"/>
<rect x="123" y="538" width="1" height="2" fill="#2e9ad0"/>
<rect x="127" y="538" width="1" height="2" fill="#2e9ad0"/>
<rect x="132" y="539" width="1" height="2" fill="#b02a2a"/>
<rect x="136" y="538" width="1" height="2" fill="#2e9ad0"/>
<rect x="141" y="538" width="1" height="2" fill="#2e9ad0"/>
<rect x="145" y="538" width="1" height="2" fill="#2e9ad0"/>
<rect x="149" y="539" width="1" height="3" fill="#b02a2a"/>
<rect x="154" y="539" width="1" height="4" fill="#b02a2a"/>
<rect x="158" y="539" width="1" height="8" fill="#b02a2a"/>
<rect x="163" y="539" width="1" height="7" fill="#b02a2a"/>
<rect x="167" y="539" width="1" height="4" fill="#b02a2a"/>
<rect x="172" y="538" width="1" height="2" fill="#2e9ad0"/>
<rect x="176" y="536" width="1" height="4" fill="#2e9ad0"/>
<rect x="181" y="533" width="1" height="7" fill="#2e9ad0"/>
<rect x="185" y="529" width="1" height="11" fill="#2e9ad0"/>
<rect x="190" y="527" width="1" height="13" fill="#2e9ad0"/>
<rect x="194" y="526" width="1" height="14" fill="#2e9ad0"/>
<rect x="199" y="526" width="1" height="14" fill="#2e9ad0"/>
<rect x="203" y="524" width="1" height="16" fill="#2e9ad0"/>
<rect x="207" y="525" width="1" height="15" fill="#2e9ad0"/>
<rect x="212" y="526" width="1" height="14" fill="#2e9ad0"/>
<rect x="216" y="530" width="1" height="10" fill="#2e9ad0"/>
<rect x="221" y="532" width="1" height="8" fill="#2e9ad0"/>
<rect x="225" y="533" width="1" height="7" fill="#2e9ad0"/>
<rect x="230" y="537" width="1" height="3" fill="#2e9ad0"/>
<rect x="234" y="539" width="1" height="5" fill="#b02a2a"/>
<rect x="239" y="539" width="1" height="9" fill="#b02a2a"/>
<rect x="243" y="539" width="1" height="13" fill="#b02a2a"/>
<rect x="248" y="539" width="1" height="16" fill="#b02a2a"/>
<rect x="252" y="539" width="1" height="19" fill="#b02a2a"/>
<rect x="257" y="539" width="1" height="19" fill="#b02a2a"/>
<rect x="261" y="539" width="1" height="19" fill="#b02a2a"/>
<rect x="265" y="539" width="1" height="21" fill="#b02a2a"/>
<rect x="270" y="539" width="1" height="18" fill="#b02a2a"/>
<rect x="274" y="539" width="1" height="24" fill="#b02a2a"/>
<rect x="279" y="539" width="1" height="26" fill="#b02a2a"/>
<rect x="283" y="539" width="1" height="26" fill="#b02a2a"/>
<rect x="288" y="539" width="1" height="22" fill="#b02a2a"/>
<rect x="292" y="539" width="1" height="17" fill="#b02a2a"/>
<rect x="297" y="539" width="1" height="13" fill="#b02a2a"/>
<rect x="301" y="539" width="1" height="10" fill="#b02a2a"/>
<rect x="306" y="539" width="1" height="8" fill="#b02a2a"/>
<rect x="310" y="539" width="1" height="5" fill="#b02a2a"/>
<rect x="315" y="539" width="1" height="4" fill="#b02a2a"/>
<rect x="319" y="539" width="1" height="3" fill="#b02a2a"/>
<rect x="323" y="539" width="1" height="3" fill="#b02a2a"/>
<rect x="328" y="539" width="1" height="8" fill="#b02a2a"/>
<rect x="332" y="539" width="1" height="15" fill="#b02a2a"/>
<rect x="337" y="539" width="1" height="13" fill="#b02a2a"/>
<rect x="341" y="539" width="1" height="8" fill="#b02a2a"/>
<rect x="346" y="539" width="1" height="6" fill="#b02a2a"/>
<rect x="350" y="539" width="1" height="3" fill="#b02a2a"/>
<rect x="355" y="538" width="1" height="2" fill="#2e9ad0"/>
<rect x="359" y="537" width="1" height="3" fill="#2e9ad0"/>
<rect x="364" y="535" width="1" height="5" fill="#2e9ad0"/>
<rect x="368" y="533" width="1" height="7" fill="#2e9ad0"/>
<rect x="373" y="532" width="1" height="8" fill="#2e9ad0"/>
<rect x="377" y="531" width="1" height="9" fill="#2e9ad0"/>
<rect x="381" y="529" width="1" height="11" fill="#2e9ad0"/>
<rect x="386" y="526" width="1" height="14" fill="#2e9ad0"/>
<rect x="390" y="525" width="1" height="15" fill="#2e9ad0"/>
<rect x="395" y="527" width="1" height="13" fill="#2e9ad0"/>
<rect x="399" y="530" width="1" height="10" fill="#2e9ad0"/>
<rect x="404" y="533" width="1" height="7" fill="#2e9ad0"/>
<rect x="408" y="534" width="1" height="6" fill="#2e9ad0"/>
<rect x="413" y="534" width="1" height="6" fill="#2e9ad0"/>
<rect x="417" y="536" width="1" height="4" fill="#2e9ad0"/>
<rect x="422" y="536" width="1" height="4" fill="#2e9ad0"/>
<rect x="426" y="533" width="1" height="7" fill="#2e9ad0"/>
<rect x="431" y="533" width="1" height="7" fill="#2e9ad0"/>
<rect x="435" y="532" width="1" height="8" fill="#2e9ad0"/>
<rect x="439" y="534" width="1" height="6" fill="#2e9ad0"/>
<rect x="444" y="537" width="1" height="3" fill="#2e9ad0"/>
<rect x="448" y="538" width="1" height="2" fill="#2e9ad0"/>
<rect x="453" y="538" width="1" height="2" fill="#2e9ad0"/>
<rect x="457" y="539" width="1" height="3" fill="#b02a2a"/>
<rect x="462" y="539" width="1" height="4" fill="#b02a2a"/>
<rect x="466" y="539" width="1" height="6" fill="#b02a2a"/>
<rect x="471" y="539" width="1" height="9" fill="#b02a2a"/>
<rect x="475" y="539" width="1" height="11" fill="#b02a2a"/>
<rect x="480" y="539" width="1" height="12" fill="#b02a2a"/>
<rect x="484" y="539" width="1" height="14" fill="#b02a2a"/>
<rect x="489" y="539" width="1" height="16" fill="#b02a2a"/>
<rect x="493" y="539" width="1" height="16" fill="#b02a2a"/>
<rect x="497" y="539" width="1" height="19" fill="#b02a2a"/>
<rect x="502" y="539" width="1" height="22" fill="#b02a2a"/>
<rect x="506" y="539" width="1" height="21" fill="#b02a2a"/>
<rect x="511" y="539" width="1" height="19" fill="#b02a2a"/>
<rect x="515" y="539" width="1" height="18" fill="#b02a2a"/>
<rect x="520" y="539" width="1" height="14" fill="#b02a2a"/>
<rect x="524" y="539" width="1" height="10" fill="#b02a2a"/>
<rect x="529" y="539" width="1" height="8" fill="#b02a2a"/>
<rect x="533" y="539" width="1" height="7" fill="#b02a2a"/>
<rect x="538" y="539" width="1" height="3" fill="#b02a2a"/>
<rect x="542" y="539" width="1" height="7" fill="#b02a2a"/>
<rect x="547" y="539" width="1" height="3" fill="#b02a2a"/>
<rect x="551" y="537" width="1" height="3" fill="#2e9ad0"/>
<rect x="555" y="535" width="1" height="5" fill="#2e9ad0"/>
<rect x="560" y="535" width="1" height="5" fill="#2e9ad0"/>
<rect x="564" y="535" width="1" height="5" fill="#2e9ad0"/>
<rect x="569" y="534" width="1" height="6" fill="#2e9ad0"/>
<rect x="573" y="535" width="1" height="5" fill="#2e9ad0"/>
<rect x="578" y="533" width="1" height="7" fill="#2e9ad0"/>
<rect x="582" y="533" width="1" height="7" fill="#2e9ad0"/>
<rect x="587" y="535" width="1" height="5" fill="#2e9ad0"/>
<rect x="591" y="533" width="1" height="7" fill="#2e9ad0"/>
<rect x="596" y="533" width="1" height="7" fill="#2e9ad0"/>
<rect x="600" y="529" width="1" height="11" fill="#2e9ad0"/>
<rect x="605" y="531" width="1" height="9" fill="#2e9ad0"/>
<rect x="609" y="532" width="1" height="8" fill="#2e9ad0"/>
<rect x="613" y="536" width="1" height="4" fill="#2e9ad0"/>
<rect x="618" y="539" width="1" height="3" fill="#b02a2a"/>
<rect x="622" y="539" width="1" height="3" fill="#b02a2a"/>
<rect x="627" y="539" width="1" height="5" fill="#b02a2a"/>
<rect x="631" y="539" width="1" height="7" fill="#b02a2a"/>
<rect x="636" y="539" width="1" height="10" fill="#b02a2a"/>
<rect x="640" y="539" width="1" height="9" fill="#b02a2a"/>
<rect x="645" y="539" width="1" height="6" fill="#b02a2a"/>
<rect x="649" y="539" width="1" height="5" fill="#b02a2a"/>
<rect x="654" y="539" width="1" height="4" fill="#b02a2a"/>
<rect x="658" y="539" width="1" height="2" fill="#b02a2a"/>
<rect x="663" y="539" width="1" height="2" fill="#b02a2a"/>
<rect x="667" y="539" width="1" height="3" fill="#b02a2a"/>
<rect x="671" y="539" width="1" height="2" fill="#b02a2a"/>
<rect x="676" y="539" width="1" height="2" fill="#b02a2a"/>
<rect x="680" y="538" width="1" height="2" fill="#2e9ad0"/>
<rect x="685" y="535" width="1" height="5" fill="#2e9ad0"/>
<rect x="689" y="535" width="1" height="5" fill="#2e9ad0"/>
<rect x="694" y="533" width="1" height="7" fill="#2e9ad0"/>
<rect x="698" y="530" width="1" height="10" fill="#2e9ad0"/>
<rect x="703" y="527" width="1" height="13" fill="#2e9ad0"/>
<rect x="707" y="526" width="1" height="14" fill="#2e9ad0"/>
<rect x="712" y="527" width="1" height="13" fill="#2e9ad0"/>
<rect x="716" y="529" width="1" height="11" fill="#2e9ad0"/>
<rect x="721" y="534" width="1" height="6" fill="#2e9ad0"/>
<rect x="725" y="536" width="1" height="4" fill="#2e9ad0"/>
<rect x="729" y="537" width="1" height="3" fill="#2e9ad0"/>
<rect x="734" y="538" width="1" height="2" fill="#2e9ad0"/>
<rect x="738" y="539" width="1" height="2" fill="#b02a2a"/>
<rect x="743" y="539" width="1" height="3" fill="#b02a2a"/>
<rect x="747" y="539" width="1" height="3" fill="#b02a2a"/>
<rect x="756" y="536" width="1" height="4" fill="#2e9ad0"/>
<rect x="761" y="531" width="1" height="9" fill="#2e9ad0"/>
<rect x="765" y="530" width="1" height="10" fill="#2e9ad0"/>
<rect x="770" y="532" width="1" height="8" fill="#2e9ad0"/>
<rect x="774" y="534" width="1" height="6" fill="#2e9ad0"/>
<rect x="779" y="536" width="1" height="4" fill="#2e9ad0"/>
<rect x="783" y="536" width="1" height="4" fill="#2e9ad0"/>
<rect x="787" y="537" width="1" height="3" fill="#2e9ad0"/>
<rect x="792" y="536" width="1" height="4" fill="#2e9ad0"/>
<rect x="801" y="537" width="1" height="3" fill="#2e9ad0"/>
<rect x="805" y="539" width="1" height="2" fill="#b02a2a"/>
<rect x="810" y="539" width="1" height="2" fill="#b02a2a"/>
<rect x="814" y="539" width="1" height="2" fill="#b02a2a"/>
<rect x="819" y="539" width="1" height="2" fill="#b02a2a"/>
<rect x="823" y="539" width="1" height="2" fill="#b02a2a"/>
<rect x="828" y="539" width="1" height="2" fill="#b02a2a"/>
<rect x="832" y="539" width="1" height="2" fill="#b02a2a"/>
<rect x="837" y="539" width="1" height="2" fill="#b02a2a"/>
<rect x="841" y="537" width="1" height="3" fill="#2e9ad0"/>
<rect x="845" y="536" width="1" height="4" fill="#2e9ad0"/>
</g>
<polyline points="1.8,443.5 18.2,430.8 36.3,420.6 58.1,409.0 66.0,402.0 72.7,396.3 90.8,381.7 109.0,366.5 116.0,359.3 121.7,353.4 127.2,346.5 145.3,329.0 159.9,315.2 170.8,303.6 181.7,289.0 199.9,265.4 210.8,252.7 216.0,246.0 220.9,240.0 250.0,211.0 265.0,199.4 270.6,193.0 287.5,183.0 300.0,176.2 312.5,168.7 325.0,160.6 330.0,159.6 337.5,158.0 350.0,153.7 357.3,150.2 366.0,146.6 374.6,142.9 383.3,137.2 391.9,132.3 400.6,129.6 409.2,128.0 420.0,126.4 437.5,124.5 450.0,124.1 460.0,123.2 472.5,120.7 485.0,119.5 497.5,118.7 510.0,117.9 522.5,118.7 535.0,119.5 545.0,120.7 550.0,120.0 557.5,117.5 566.0,116.8 576.0,116.2 581.0,116.0 591.0,117.0 601.0,117.4 609.7,119.1 618.5,121.4 628.5,123.9 638.5,127.6 648.5,132.0 658.5,137.0 668.5,141.7 678.5,146.4 686.0,149.0 692.5,151.0 705.0,152.1 717.5,152.4 730.0,151.9 742.5,151.1 752.5,151.0 757.5,149.6 765.0,147.7 772.5,146.9 783.7,146.1 795.0,145.1 806.0,144.3 824.7,143.6 836.0,142.5 846.0,140.0" fill="none" stroke="#ff1010" stroke-width="1.0" stroke-linejoin="round"/>
<polyline points="209.9,469.9 235.5,455.7 271.0,439.7 285.2,433.7 317.1,418.4 352.6,403.5 377.4,391.1 398.7,378.7 420.0,365.2 441.3,352.0 466.1,337.5 494.5,323.3 520.0,309.9 534.6,303.3 556.6,290.9 585.8,275.2 611.4,261.3 627.9,253.2 644.3,246.7 666.3,237.9 695.5,227.6 724.8,217.4 754.0,206.4 777.8,197.7 793.0,191.8 801.5,188.2 816.0,183.2 823.5,180.1 845.4,172.1" fill="none" stroke="#1818ff" stroke-width="1.0" stroke-linejoin="round"/>
<polyline points="2.4,515.3 6.5,513.0 11.3,512.3 16.0,509.4 24.0,508.9 35.5,508.2 40.3,509.4 48.4,513.4 56.5,515.3 64.5,516.3 71.0,511.8 79.0,509.4 85.5,509.8 93.5,511.8 101.6,514.2 106.5,514.5 113.0,512.6 119.4,511.3 129.0,511.5 133.9,512.6 140.3,511.4 149.7,512.6 159.4,517.1 164.2,517.1 172.3,514.5 180.3,510.6 188.4,505.3 196.5,501.6 204.5,497.3 212.6,495.6 220.6,496.5 225.5,496.1 230.3,498.1 236.8,502.9 244.8,508.5 252.9,514.5 261.0,519.5 265.8,523.1 270.6,523.9 277.1,531.5 283.5,536.8 288.0,538.0 299.4,537.1 312.3,535.6 321.9,535.6 328.4,539.2 333.2,544.4 339.7,544.4 347.7,542.4 357.4,540.0 368.7,536.8 380.0,531.9 389.7,525.8 396.1,524.7 405.8,525.8 413.9,525.2 421.9,525.2 428.0,522.7 436.1,520.3 444.2,522.3 452.3,523.1 460.3,525.2 466.8,527.1 474.8,531.5 484.5,535.6 491.0,540.0 497.4,544.8 503.9,550.2 510.3,552.6 516.8,554.2 524.8,553.2 532.9,553.2 539.4,552.1 543.4,554.2 549.0,552.1 555.5,548.9 561.9,547.6 572.9,546.5 584.2,543.5 595.5,541.3 601.1,538.4 610.0,538.4 616.5,541.3 624.5,543.2 631.0,546.5 637.4,549.4 647.1,548.4 653.5,548.9 660.0,547.7 672.9,548.9 682.6,546.5 692.3,544.0 698.7,541.3 705.2,537.6 711.3,533.9 716.1,533.2 722.6,535.6 732.3,536.8 741.9,538.4 750.0,539.2 755.6,537.6 761.3,532.7 767.7,531.1 777.4,531.6 785.5,532.4 793.5,531.6 801.6,531.6 809.7,533.2 819.4,533.9 829.0,533.9 837.1,533.5 841.9,531.9 846.0,530.6" fill="none" stroke="#0000ff" stroke-width="1.12" stroke-linejoin="round"/>
<polyline points="2.4,520.2 11.3,517.4 21.0,514.2 32.3,511.5 40.3,510.5 48.4,511.8 56.5,513.1 64.5,513.9 72.6,513.1 80.6,511.8 90.3,511.0 100.0,512.1 109.7,512.6 119.4,512.1 129.0,511.8 138.7,511.5 150.0,512.1 156.1,513.4 169.0,515.0 180.3,513.4 191.6,509.4 204.5,504.2 215.8,500.5 228.7,498.1 236.8,499.4 244.8,502.6 252.9,506.6 261.0,511.0 269.0,515.0 277.1,520.2 285.2,525.8 288.0,527.9 296.1,530.8 305.8,532.7 317.1,533.9 326.8,535.2 336.5,538.4 347.7,540.3 357.4,540.5 368.7,538.4 380.0,535.6 392.9,531.9 405.8,528.7 418.7,527.1 432.9,525.2 445.8,523.1 457.1,523.4 468.4,525.2 481.3,529.2 491.0,533.2 500.6,537.9 510.3,543.2 520.0,547.3 529.7,549.4 539.4,550.8 549.0,551.3 558.7,550.0 570.0,548.4 576.1,547.7 592.3,544.8 605.2,542.1 614.8,541.3 624.5,542.4 637.4,544.8 650.3,546.5 663.2,547.3 676.1,547.7 685.8,546.8 695.5,545.3 705.2,542.4 708.1,541.6 716.1,538.9 725.8,537.6 735.5,537.6 748.4,538.4 758.1,537.6 767.7,535.6 780.6,533.5 793.5,532.7 804.8,532.3 816.1,532.7 829.0,533.2 838.7,533.2 846.0,532.3" fill="none" stroke="#ff0000" stroke-width="1.12" stroke-linejoin="round"/>
<g shape-rendering="crispEdges">
<rect x="0" y="53" width="876" height="1" fill="#000"/>
<rect x="0" y="132" width="876" height="1" fill="#000"/>
<rect x="0" y="198" width="876" height="1" fill="#000"/>
<rect x="0" y="253" width="876" height="1" fill="#000"/>
<rect x="0" y="303" width="876" height="1" fill="#000"/>
<rect x="0" y="353" width="876" height="1" fill="#000"/>
<rect x="0" y="470" width="877" height="1" fill="#000"/>
<rect x="0" y="471" width="876" height="10" fill="#fff"/>
<rect x="2" y="472" width="873" height="9" fill="#f4f4f4"/>
<rect x="0" y="470" width="1" height="11" fill="#000"/>
<rect x="0" y="565" width="877" height="1" fill="#000"/>
<rect x="0" y="566" width="876" height="12" fill="#fff"/>
<rect x="2" y="567" width="873" height="9" fill="#f4f4f4"/>
<rect x="0" y="565" width="1" height="13" fill="#000"/>
<rect x="0" y="577" width="876" height="1" fill="#000"/>
<rect x="877" y="0" width="53" height="578" fill="#fff"/>
<rect x="878" y="3" width="50" height="477" fill="#f4f4f4"/>
<rect x="878" y="483" width="50" height="92" fill="#f4f4f4"/>
<rect x="876" y="0" width="1" height="576" fill="#000"/>
<rect x="876" y="0" width="54" height="2" fill="#000"/>
<rect x="929" y="0" width="1" height="578" fill="#000"/>
<rect x="876" y="481" width="54" height="1" fill="#000"/>
<rect x="877" y="6" width="3" height="1" fill="#8c8c8c"/>
<rect x="876" y="24" width="6" height="1" fill="#8c8c8c"/>
<rect x="876" y="42" width="6" height="1" fill="#8c8c8c"/>
<rect x="876" y="61" width="6" height="1" fill="#8c8c8c"/>
<rect x="876" y="79" width="6" height="1" fill="#8c8c8c"/>
<rect x="876" y="97" width="6" height="1" fill="#8c8c8c"/>
<rect x="876" y="116" width="6" height="1" fill="#8c8c8c"/>
<rect x="876" y="134" width="6" height="1" fill="#8c8c8c"/>
<rect x="876" y="152" width="6" height="1" fill="#8c8c8c"/>
<rect x="876" y="170" width="6" height="1" fill="#8c8c8c"/>
<rect x="876" y="189" width="6" height="1" fill="#8c8c8c"/>
<rect x="876" y="207" width="6" height="1" fill="#8c8c8c"/>
<rect x="876" y="225" width="6" height="1" fill="#8c8c8c"/>
<rect x="876" y="244" width="6" height="1" fill="#8c8c8c"/>
<rect x="876" y="262" width="6" height="1" fill="#8c8c8c"/>
<rect x="876" y="280" width="6" height="1" fill="#8c8c8c"/>
<rect x="876" y="298" width="6" height="1" fill="#8c8c8c"/>
<rect x="876" y="317" width="6" height="1" fill="#8c8c8c"/>
<rect x="876" y="335" width="6" height="1" fill="#8c8c8c"/>
<rect x="876" y="353" width="6" height="1" fill="#8c8c8c"/>
<rect x="876" y="371" width="6" height="1" fill="#8c8c8c"/>
<rect x="876" y="390" width="6" height="1" fill="#8c8c8c"/>
<rect x="876" y="408" width="6" height="1" fill="#8c8c8c"/>
<rect x="876" y="426" width="6" height="1" fill="#8c8c8c"/>
<rect x="876" y="445" width="6" height="1" fill="#8c8c8c"/>
<rect x="876" y="463" width="6" height="1" fill="#8c8c8c"/>
<rect x="876" y="506" width="6" height="1" fill="#8c8c8c"/>
<rect x="876" y="522" width="6" height="1" fill="#8c8c8c"/>
<rect x="876" y="539" width="6" height="1" fill="#8c8c8c"/>
<rect x="876" y="555" width="6" height="1" fill="#8c8c8c"/>
<rect x="877" y="572" width="3" height="1" fill="#8c8c8c"/>
<rect x="874" y="575" width="56" height="2" fill="#0a640a"/>
<rect x="874" y="577" width="56" height="1" fill="#fff"/>
<rect x="535" y="566" width="96" height="12" fill="#fff"/>
<rect x="537" y="565" width="92" height="13" fill="#0a640a"/>
<rect x="538" y="566" width="90" height="10" fill="#fff"/>
<rect x="538" y="576" width="90" height="2" fill="#f4f4f4"/>
<rect x="877" y="555" width="24" height="13" fill="#000"/>
<rect x="877" y="556" width="23" height="11" fill="#ffff00"/>
</g>
<text class="t" x="5" y="12" fill="#000" stroke="#000" stroke-width="0.25" textLength="133.5" lengthAdjust="spacingAndGlyphs">http://www.deltastock.com/</text>
<text class="t" x="157" y="12" fill="#ff0000" stroke="#ff0000" stroke-width="0.25" textLength="34" lengthAdjust="spacingAndGlyphs">MA(50)</text>
<text class="t" x="199" y="12" fill="#ff0000" stroke="#ff0000" stroke-width="0.25" textLength="39" lengthAdjust="spacingAndGlyphs">1.30962</text>
<text class="t" x="246.5" y="12" fill="#0000ff" stroke="#0000ff" stroke-width="0.25" textLength="40" lengthAdjust="spacingAndGlyphs">MA(200)</text>
<text class="t" x="295" y="12" fill="#0000ff" stroke="#0000ff" stroke-width="0.25" textLength="37.5" lengthAdjust="spacingAndGlyphs">1.28971</text>
<text class="t" x="5" y="492" fill="#000" stroke="#000" stroke-width="0.25" textLength="71" lengthAdjust="spacingAndGlyphs">MACD(26,12,9)</text>
<text class="t" x="87" y="492" fill="#0000ff" stroke="#0000ff" stroke-width="0.25" textLength="66" lengthAdjust="spacingAndGlyphs">DIFF:-0.01509</text>
<text class="t" x="164.5" y="492" fill="#ff0000" stroke="#ff0000" stroke-width="0.25" textLength="66" lengthAdjust="spacingAndGlyphs">DEA:-0.01342</text>
<text class="t" x="241" y="492" fill="#0000ff" stroke="#0000ff" stroke-width="0.25" textLength="74" lengthAdjust="spacingAndGlyphs">MACD:-0.00335</text>
<text class="l" x="2.5" y="48" textLength="50" lengthAdjust="spacingAndGlyphs">1.3168</text>
<text class="l" x="2.5" y="127" textLength="50" lengthAdjust="spacingAndGlyphs">1.3082</text>
<text class="l" x="2.5" y="193" textLength="50" lengthAdjust="spacingAndGlyphs">1.3010</text>
<text class="l" x="2.5" y="248" textLength="50" lengthAdjust="spacingAndGlyphs">1.2950</text>
<text class="l" x="2.5" y="298" textLength="50" lengthAdjust="spacingAndGlyphs">1.2895</text>
<text class="l" x="2.5" y="348" textLength="50" lengthAdjust="spacingAndGlyphs">1.2840</text>
<text class="a" x="883.4" y="28" textLength="39.16" lengthAdjust="spacingAndGlyphs">1.32000</text>
<text class="a" x="883.4" y="47" textLength="39.16" lengthAdjust="spacingAndGlyphs">1.31800</text>
<text class="a" x="883.4" y="65" textLength="39.16" lengthAdjust="spacingAndGlyphs">1.31600</text>
<text class="a" x="883.4" y="83" textLength="39.16" lengthAdjust="spacingAndGlyphs">1.31400</text>
<text class="a" x="883.4" y="102" textLength="39.16" lengthAdjust="spacingAndGlyphs">1.31200</text>
<text class="a" x="883.4" y="120" textLength="39.16" lengthAdjust="spacingAndGlyphs">1.31000</text>
<text class="a" x="883.4" y="138" textLength="39.16" lengthAdjust="spacingAndGlyphs">1.30800</text>
<text class="a" x="883.4" y="156" textLength="39.16" lengthAdjust="spacingAndGlyphs">1.30600</text>
<text class="a" x="883.4" y="175" textLength="39.16" lengthAdjust="spacingAndGlyphs">1.30400</text>
<text class="a" x="883.4" y="193" textLength="39.16" lengthAdjust="spacingAndGlyphs">1.30200</text>
<text class="a" x="883.4" y="211" textLength="39.16" lengthAdjust="spacingAndGlyphs">1.30000</text>
<text class="a" x="883.4" y="230" textLength="39.16" lengthAdjust="spacingAndGlyphs">1.29800</text>
<text class="a" x="883.4" y="248" textLength="39.16" lengthAdjust="spacingAndGlyphs">1.29600</text>
<text class="a" x="883.4" y="266" textLength="39.16" lengthAdjust="spacingAndGlyphs">1.29400</text>
<text class="a" x="883.4" y="284" textLength="39.16" lengthAdjust="spacingAndGlyphs">1.29200</text>
<text class="a" x="883.4" y="303" textLength="39.16" lengthAdjust="spacingAndGlyphs">1.29000</text>
<text class="a" x="883.4" y="321" textLength="39.16" lengthAdjust="spacingAndGlyphs">1.28800</text>
<text class="a" x="883.4" y="339" textLength="39.16" lengthAdjust="spacingAndGlyphs">1.28600</text>
<text class="a" x="883.4" y="358" textLength="39.16" lengthAdjust="spacingAndGlyphs">1.28400</text>
<text class="a" x="883.4" y="376" textLength="39.16" lengthAdjust="spacingAndGlyphs">1.28200</text>
<text class="a" x="883.4" y="394" textLength="39.16" lengthAdjust="spacingAndGlyphs">1.28000</text>
<text class="a" x="883.4" y="412" textLength="39.16" lengthAdjust="spacingAndGlyphs">1.27800</text>
<text class="a" x="883.4" y="431" textLength="39.16" lengthAdjust="spacingAndGlyphs">1.27600</text>
<text class="a" x="883.4" y="449" textLength="39.16" lengthAdjust="spacingAndGlyphs">1.27400</text>
<text class="a" x="883.4" y="467" textLength="39.16" lengthAdjust="spacingAndGlyphs">1.27200</text>
<text class="a" x="883" y="510" textLength="27.11" lengthAdjust="spacingAndGlyphs">0.040</text>
<text class="a" x="883" y="527" textLength="27.11" lengthAdjust="spacingAndGlyphs">0.020</text>
<text class="a" x="883" y="543" textLength="27.11" lengthAdjust="spacingAndGlyphs">0.000</text>
<text class="a" x="883.5" y="560" textLength="30.72" lengthAdjust="spacingAndGlyphs">-0.020</text>
<g shape-rendering="crispEdges"><rect x="876" y="90" width="48" height="14" fill="#b82c2c"/><rect x="877" y="91" width="46" height="12" fill="#dc7a7a"/></g>
<text class="a" x="880.7" y="100" fill="#000" textLength="39.16" lengthAdjust="spacingAndGlyphs">1.31283</text>
<text class="a" x="539.3" y="575" fill="#000" textLength="85.53" lengthAdjust="spacingAndGlyphs">2020-08-10 10:00</text>
<g shape-rendering="crispEdges"><rect x="877" y="555" width="24" height="13" fill="#000"/><rect x="877" y="556" width="23" height="11" fill="#ffff00"/></g>
<text class="a" x="877.5" y="566" fill="#000" textLength="20.48" lengthAdjust="spacingAndGlyphs">x0.1</text>
</svg></body></html>
